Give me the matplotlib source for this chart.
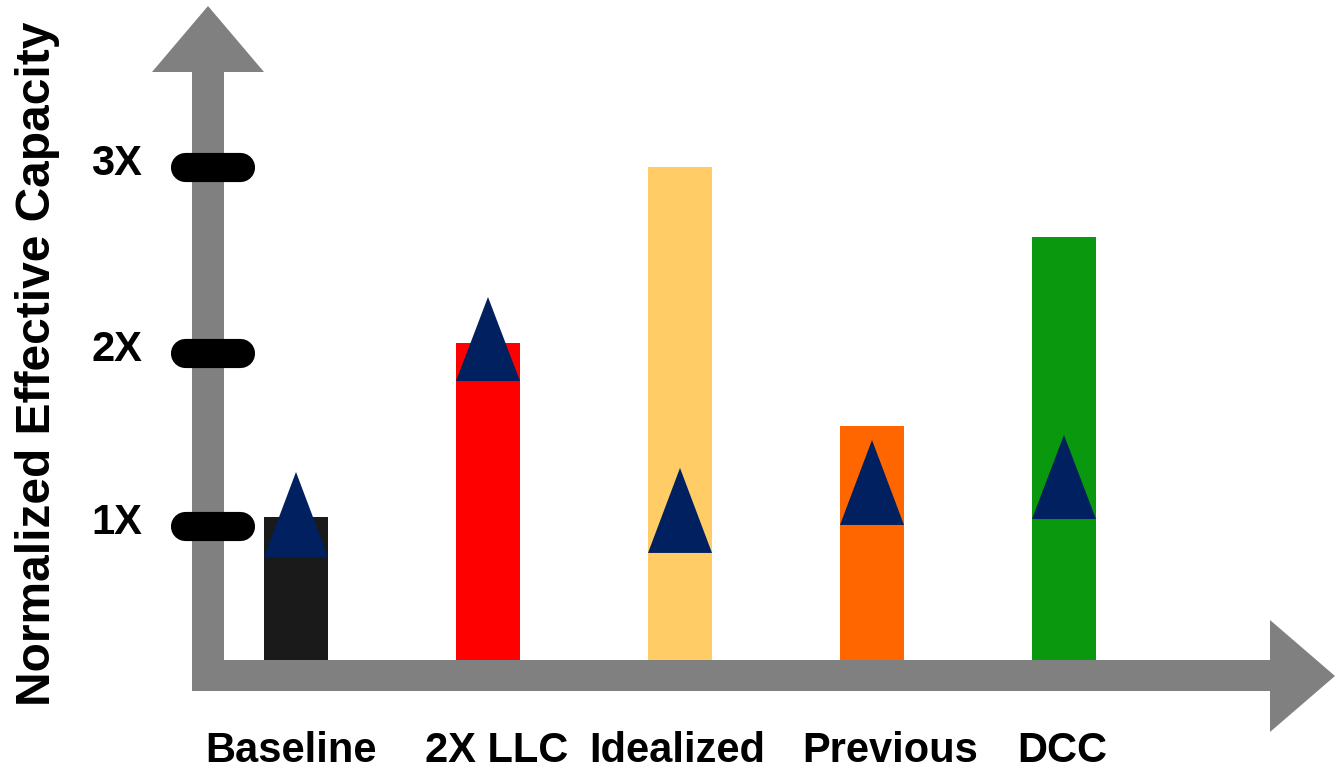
import matplotlib.pyplot as plt
from matplotlib.patches import Polygon

# categories and values (capacity units, 1X tick = 1)
categories = ['Baseline', '2X LLC', 'Idealized', 'Previous', 'DCC']
bar_height = [1.063, 2.357, 3.665, 1.740, 3.145]
bar_colors = ['#1a1a1a', '#ff0000', '#ffcc66', '#ff6600', '#0a990e']
tri_base = [0.766, 2.074, 0.796, 1.004, 1.048]
tri_top = [1.398, 2.699, 1.428, 1.636, 1.673]
label_pos = [-0.026, 1.047, 1.984, 3.094, 3.99]
tick_pos = [1.0, 2.279, 3.665]
tick_labels = ['1X', '2X', '3X']

W, H = 1336, 771
fig = plt.figure(figsize=(W / 100, H / 100), dpi=100)
ax = fig.add_axes([0, 0, 1, 1])
ax.set_xlim(-296 / 192, (W - 296) / 192)
ax.set_ylim((660 - H) / 134.5, 660 / 134.5)
ax.axis('off')
plt.rcParams['font.family'] = ['Liberation Sans', 'DejaVu Sans']


def px(x, y):
    # pixel position -> data coordinates
    return ((x - 296) / 192, (660 - y) / 134.5)


gray = '#808080'
# vertical axis arrow
v_arrow = [px(192, 691), px(224, 691), px(224, 72), px(264, 72),
           px(208, 6), px(152, 72), px(192, 72)]
ax.add_patch(Polygon(v_arrow, closed=True, facecolor=gray, edgecolor='none', zorder=1))
# horizontal axis arrow
h_arrow = [px(192, 660), px(1270, 660), px(1270, 620), px(1335, 676),
           px(1270, 732), px(1270, 691), px(192, 691)]
ax.add_patch(Polygon(h_arrow, closed=True, facecolor=gray, edgecolor='none', zorder=1))

# rounded tick marks and labels
x0, _ = px(184.5, 0)
x1, _ = px(239.5, 0)
lx, _ = px(142, 0)
for t, lab in zip(tick_pos, tick_labels):
    ax.plot([x0, x1], [t, t], color='black', lw=21, solid_capstyle='round', zorder=3)
    ax.text(lx, t - 8 / 134.5, lab, ha='right', va='baseline', fontsize=30, fontweight='bold')

# bars
width = 64 / 192
ax.bar(range(len(categories)), bar_height, width=width, color=bar_colors, zorder=2)

# triangles on bars
for i, (b, t) in enumerate(zip(tri_base, tri_top)):
    tri = [(i - width / 2, b), (i + width / 2, b), (i, t)]
    ax.add_patch(Polygon(tri, closed=True, facecolor='#002060', edgecolor='none', zorder=4))

# category labels
_, ly = px(0, 762)
for x, lab in zip(label_pos, categories):
    ax.text(x, ly, lab, ha='center', va='baseline', fontsize=30, fontweight='bold')

# axis title
tx, ty = px(50, 364)
ax.text(tx, ty, 'Normalized Effective Capacity', rotation=90, rotation_mode='anchor',
        ha='center', va='baseline', fontsize=34.5, fontweight='bold')

fig.savefig('out.png', dpi=100)
